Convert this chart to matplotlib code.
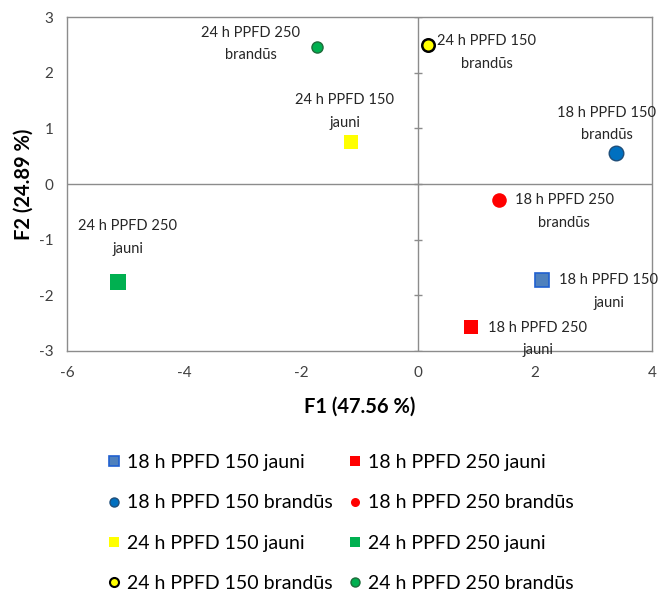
import matplotlib.pyplot as plt
from matplotlib.lines import Line2D

plt.rcParams['font.family'] = ['Lato', 'DejaVu Sans']
plt.rcParams['axes.unicode_minus'] = False

# PCA scores for each group
names = ['18 h PPFD 150 jauni', '18 h PPFD 250 jauni',
         '18 h PPFD 150 brandūs', '18 h PPFD 250 brandūs',
         '24 h PPFD 150 jauni', '24 h PPFD 250 jauni',
         '24 h PPFD 150 brandūs', '24 h PPFD 250 brandūs']
f1 = [2.12, 0.90, 3.38, 1.39, -1.14, -5.14, 0.17, -1.73]
f2 = [-1.72, -2.58, 0.56, -0.29, 0.76, -1.76, 2.50, 2.47]

# where each point's caption sits (centre of the two-line block)
label_x = [3.26, 2.05, 3.23, 2.50, -1.25, -4.97, 1.18, -2.86]
label_y = [-1.94, -2.79, 1.08, -0.50, 1.31, -0.96, 2.37, 2.52]

markers = ['s', 's', 'o', 'o', 's', 's', 'o', 'o']
faces = ['#4F81BD', '#FF0000', '#0070C0', '#FF0000',
         '#FFFF00', '#00B050', '#FFFF00', '#00B050']
edges = ['#2060D0', '#FF0000', '#1F4E79', '#FF0000',
         '#FFFF00', '#00B050', '#000000', '#1E6B3A']
edge_w = [1.2, 0, 1.0, 0, 0, 0, 1.8, 1.0]
sizes = [10.5, 10.5, 10.5, 10.5, 9.5, 11.5, 9.0, 8.0]

x_ticks = [-6, -4, -2, 0, 2, 4]
y_ticks = [-3, -2, -1, 0, 1, 2, 3]

fig = plt.figure(figsize=(6.61, 5.93), dpi=100)
ax = fig.add_axes([0.102, 0.4086, 0.884, 0.5621])

grey = '#8C8C8C'
ax.axhline(0, color=grey, lw=1, zorder=1)
ax.axvline(0, color=grey, lw=1, zorder=1)
# cross ticks on the vertical axis line
ax.hlines(y_ticks, -0.07, 0.07, color=grey, lw=1, zorder=1)

for i in range(len(names)):
    ax.plot(f1[i], f2[i], marker=markers[i], ls='none', ms=sizes[i],
            mfc=faces[i], mec=edges[i], mew=edge_w[i], zorder=3)
    cap = names[i].rsplit(' ', 1)
    ax.text(label_x[i], label_y[i], cap[0] + '\n' + cap[1], ha='center',
            va='center', fontsize=10.5, color='#262626', linespacing=1.8)

ax.set_xlim(-6, 4)
ax.set_ylim(-3, 3)
ax.set_xticks(x_ticks)
ax.set_yticks(y_ticks)
ax.tick_params(axis='x', length=0, pad=11, labelsize=11, labelcolor='#404040')
ax.tick_params(axis='y', length=0, pad=10, labelsize=11, labelcolor='#404040')
for s in ax.spines.values():
    s.set_color(grey)
    s.set_linewidth(1)

ax.set_xlabel('F1 (47.56 %)', fontsize=14.5, fontweight='bold', labelpad=12)
ax.set_ylabel('F2 (24.89 %)', fontsize=14.5, fontweight='bold', labelpad=4)

# legend: two columns, filled column by column
order = [0, 2, 4, 6, 1, 3, 5, 7]
handles = []
for i in order:
    handles.append(Line2D([], [], marker=markers[i], ls='none', ms=6.5,
                          mfc=faces[i], mec=edges[i],
                          mew=min(edge_w[i], 1.5), label=names[i]))
fig.legend(handles=handles, ncol=2, loc='center', bbox_to_anchor=(0.516, 0.118),
           frameon=False, fontsize=14, handlelength=0.6, handletextpad=0.35,
           columnspacing=0.86, labelspacing=1.2, borderpad=0)

fig.savefig('out.png', dpi=100)
